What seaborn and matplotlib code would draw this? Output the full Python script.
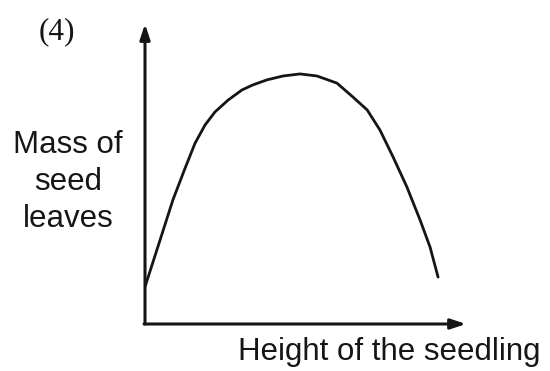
import matplotlib
matplotlib.use("Agg")
import matplotlib.pyplot as plt
import seaborn as sns
import pandas as pd

# Values (arbitrary units, x: 0-10, y: 0-10)
height = [0.00, 0.47, 0.87, 1.25, 1.56, 1.87, 2.18, 2.59, 3.02, 3.36,
          3.80, 4.30, 4.83, 5.36, 5.98, 6.48, 6.92, 7.32, 7.73, 8.16,
          8.57, 8.88, 9.13]
mass = [1.25, 2.83, 4.18, 5.25, 6.09, 6.70, 7.14, 7.54, 7.88, 8.05,
        8.22, 8.35, 8.42, 8.35, 8.11, 7.64, 7.21, 6.53, 5.62, 4.61,
        3.50, 2.59, 1.58]
panel_label = "(4)"
y_label_lines = ["Mass of", "seed", "leaves"]
x_label = "Height of the seedling"

sns.set_style("white")
plt.rcParams["font.family"] = ["Liberation Sans", "DejaVu Sans"]

W, H = 550, 371
fig = plt.figure(figsize=(5.5, 3.71), dpi=100)
ax = fig.add_axes([145 / W, 1 - 324 / H, (466 - 145) / W, (324 - 27) / H])

df = pd.DataFrame({"height": height, "mass": mass})
sns.lineplot(data=df, x="height", y="mass", ax=ax, color="#151515",
             linewidth=2.0, sort=False, estimator=None)

ax.set_xlim(0, 10)
ax.set_ylim(0, 10)
ax.set_xticks([])
ax.set_yticks([])
ax.set_xlabel("")
ax.set_ylabel("")
for s in ax.spines.values():
    s.set_visible(False)

arrow = dict(arrowstyle="-|>,head_length=0.9,head_width=0.3", color="#151515",
             lw=2.2, shrinkA=0, shrinkB=0)
ax.annotate("", xy=(0, 1.01), xytext=(0, 0), xycoords="axes fraction",
            textcoords="axes fraction", arrowprops=arrow, annotation_clip=False)
ax.annotate("", xy=(1.0, 0), xytext=(-0.003, 0), xycoords="axes fraction",
            textcoords="axes fraction", arrowprops=arrow, annotation_clip=False)

fs = 22.5
tc = "#161616"
fig.text(57 / W, 1 - 32 / H, panel_label, ha="center", va="center",
         fontsize=fs, color=tc, family=["Liberation Serif", "DejaVu Serif"])
for line, yb in zip(y_label_lines, [153, 190, 227]):
    fig.text(68 / W, 1 - yb / H, line, ha="center", va="baseline",
             fontsize=fs, color=tc)
fig.text(238 / W, 1 - 360 / H, x_label, ha="left", va="baseline",
         fontsize=fs, color=tc)

fig.savefig("out.png", dpi=100)
